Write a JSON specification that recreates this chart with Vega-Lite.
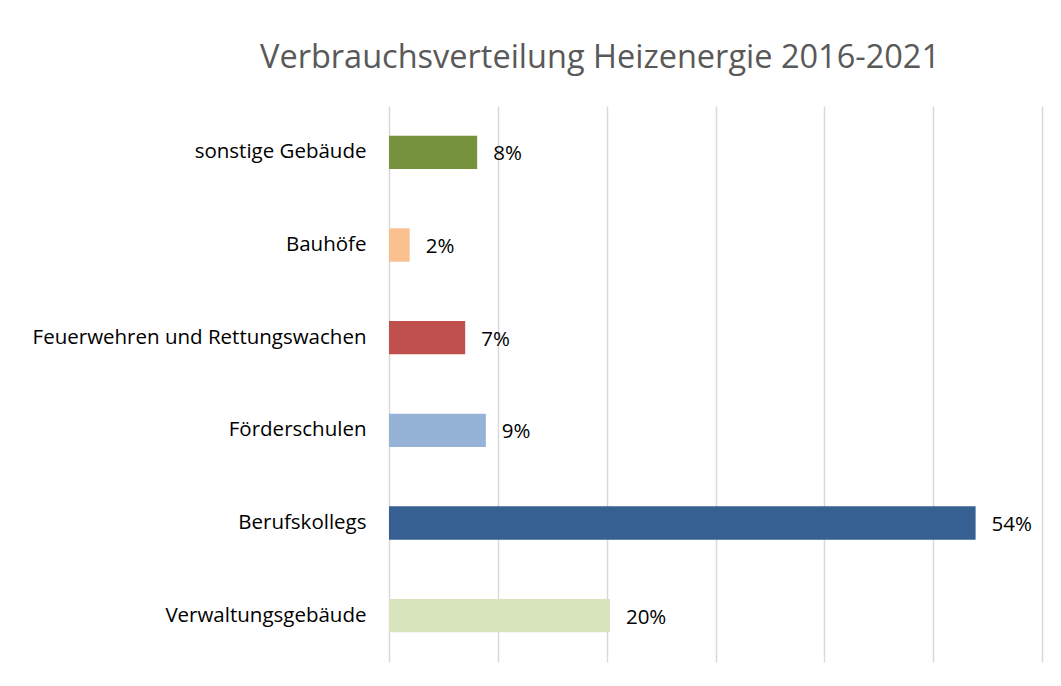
{
  "$schema": "https://vega.github.io/schema/vega-lite/v6.json",
  "width": 653,
  "height": 556,
  "autosize": {"type": "none"},
  "padding": {"left": 389, "top": 106, "right": 19, "bottom": 24},
  "background": "#ffffff",
  "title": {
    "text": "Verbrauchsverteilung Heizenergie 2016-2021",
    "anchor": "start",
    "frame": "group",
    "dx": -129,
    "offset": 6,
    "baseline": "alphabetic",
    "font": "Open Sans",
    "fontSize": 32.5,
    "fontWeight": "normal",
    "color": "#595959"
  },
  "data": {
    "values": [
      {"kategorie": "sonstige Gebäude", "anteil": 8.1, "label": "8%"},
      {"kategorie": "Bauhöfe", "anteil": 1.9, "label": "2%"},
      {"kategorie": "Feuerwehren und Rettungswachen", "anteil": 7.0, "label": "7%"},
      {"kategorie": "Förderschulen", "anteil": 8.9, "label": "9%"},
      {"kategorie": "Berufskollegs", "anteil": 53.9, "label": "54%"},
      {"kategorie": "Verwaltungsgebäude", "anteil": 20.3, "label": "20%"}
    ]
  },
  "encoding": {
    "y": {
      "field": "kategorie",
      "type": "nominal",
      "sort": null,
      "scale": {"paddingInner": 0.64, "paddingOuter": 0.32},
      "axis": {
        "title": null,
        "domain": false,
        "ticks": false,
        "labelPadding": 23,
        "labelFont": "Open Sans",
        "labelFontSize": 20.5,
        "labelColor": "#000000",
        "labelLimit": 400
      }
    },
    "x": {
      "field": "anteil",
      "type": "quantitative",
      "scale": {"domain": [0, 60], "nice": false},
      "axis": {
        "title": null,
        "domain": false,
        "ticks": false,
        "labels": false,
        "values": [0, 10, 20, 30, 40, 50, 60],
        "grid": true,
        "gridColor": "#d9d9d9",
        "gridWidth": 1.5
      }
    }
  },
  "layer": [
    {
      "mark": {"type": "bar"},
      "encoding": {
        "color": {
          "field": "kategorie",
          "type": "nominal",
          "legend": null,
          "scale": {
            "domain": ["sonstige Gebäude", "Bauhöfe", "Feuerwehren und Rettungswachen", "Förderschulen", "Berufskollegs", "Verwaltungsgebäude"],
            "range": ["#76923C", "#FAC090", "#C0504D", "#95B3D7", "#366092", "#D7E4BC"]
          }
        }
      }
    },
    {
      "mark": {"type": "text", "align": "left", "baseline": "middle", "dx": 16, "dy": 2, "font": "Open Sans", "fontSize": 20.5, "color": "#000000"},
      "encoding": {"text": {"field": "label"}}
    }
  ],
  "config": {"view": {"stroke": null}}
}
